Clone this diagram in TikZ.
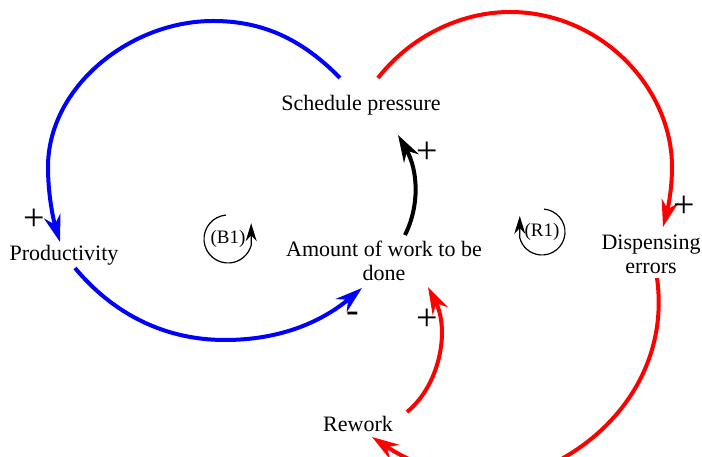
\documentclass[tikz,border=0pt]{standalone}
\usepackage{fontspec}
\setmainfont{Liberation Serif}
\usetikzlibrary{arrows.meta}

\tikzset{
  var/.style={align=center, font=\fontsize{22}{24}\selectfont},
  pol/.style={font=\fontsize{38}{38}\selectfont, inner sep=0pt},
  link/.style={->, line width=4pt},
  loopname/.style={font=\fontsize{19}{19}\selectfont, inner sep=0pt},
  looparrow/.style={->, line width=1.2pt, >={Stealth[length=18pt,width=11pt]}}
}

\begin{document}
\begin{tikzpicture}[>={Stealth[length=27pt,width=17pt]}, x=1pt, y=1pt]
    \useasboundingbox (0,0) rectangle (702,457);
    \clip (0,0) rectangle (702,457);

    % Variables
    \node[var] (sp)   at (361,352) {Schedule pressure};
    \node[var] (prod) at (64,202)  {Productivity};
    \node[var] (work) at (384,196) {Amount of work to be\\done};
    \node[var] (disp) at (651,203) {Dispensing\\errors};
    \node[var] (rew)  at (358,33)  {Rework};

    % Loop names
    \node[loopname] (b1) at (228,218) {(B1)};
    \node[loopname] (r1) at (542,225) {(R1)};
    \draw[looparrow] ([shift={(95:24)}]b1.center) arc[start angle=95, end angle=345, radius=24] -- ++(0,22);
    \draw[looparrow] ([shift={(85:23)}]r1.center) arc[start angle=85, end angle=-165, radius=23] -- ++(0,22);

    % Balancing loop
    \draw[link, blue] ([shift={(-21,27)}]sp.center)
        .. controls (300,420) and (260,436) .. (213,436)
        .. controls (130,436) and (48,370) .. (48,290)
        .. controls (48,260) and (54,235) .. ([shift={(-4,13)}]prod.center);
    \draw[link, blue] ([shift={(11,-13)}]prod.center)
        .. controls (110,147) and (160,117) .. (225,117)
        .. controls (290,117) and (330,142) .. ([shift={(-22,-27)}]work.center);

    % Reinforcing loop
    \draw[link, red] ([shift={(17,27)}]sp.center)
        .. controls (410,420) and (460,445) .. (510,445)
        .. controls (600,445) and (672,370) .. (672,290)
        .. controls (672,265) and (667,245) .. ([shift={(12,27)}]disp.center);
    \draw[link, red] ([shift={(6,-24)}]disp.center)
        .. controls (668,100) and (625,35) .. (565,0)
        .. controls (515,-33) and (440,-25) .. ([shift={(14,-13)}]rew.center);
    \draw[link, red] ([shift={(49,12)}]rew.center)
        .. controls (440,72) and (450,127) .. ([shift={(44,-26)}]work.center);

    % Pressure
    \draw[link, black] ([shift={(21,26)}]work.center)
        .. controls (420,252) and (418,287) .. ([shift={(37,-30)}]sp.center);

    % Polarities
    \node[pol] (p1) at (427,304) {+};
    \node[pol] (p2) at (34,237)  {+};
    \node[pol] (p3) at (353,140) {-};
    \node[pol] (p4) at (427,137) {+};
    \node[pol] (p5) at (684,250) {+};
\end{tikzpicture}
\end{document}
